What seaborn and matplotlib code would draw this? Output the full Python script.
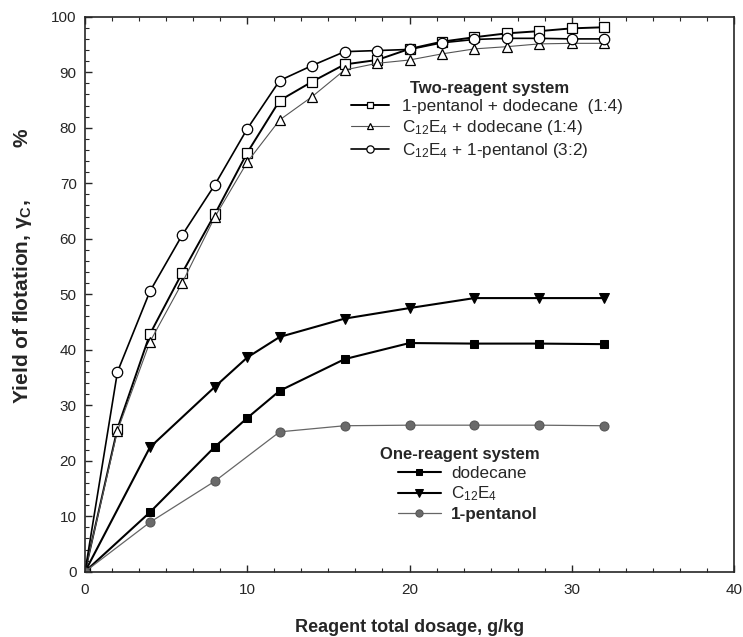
import matplotlib
matplotlib.use("Agg")
import matplotlib.pyplot as plt
import seaborn as sns
import pandas as pd
from matplotlib.ticker import MultipleLocator, AutoMinorLocator

sns.set_style("ticks")
plt.rcParams['font.family'] = ['Liberation Sans', 'DejaVu Sans']
plt.rcParams['mathtext.fontset'] = 'custom'
plt.rcParams['mathtext.rm'] = 'Liberation Sans'
plt.rcParams['mathtext.it'] = 'Liberation Sans:italic'
plt.rcParams['mathtext.bf'] = 'Liberation Sans:bold'

# ---- data ----
x_two = [0, 2, 4, 6, 8, 10, 12, 14, 16, 18, 20, 22, 24, 26, 28, 30, 32]
pent_dod = [0, 25.8, 42.8, 53.9, 64.4, 75.5, 84.9, 88.3, 91.4, 92.2, 94.2, 95.5, 96.3, 97.0, 97.4, 97.9, 98.1]
c12_dod = [0, 25.4, 41.4, 52.1, 63.9, 73.8, 81.4, 85.6, 90.4, 91.6, 92.2, 93.3, 94.2, 94.6, 95.1, 95.2, 95.2]
c12_pent = [0, 36.0, 50.5, 60.7, 69.7, 79.8, 88.5, 91.2, 93.7, 93.9, 94.1, 95.3, 95.9, 96.1, 96.1, 96.0, 96.0]

x_one = [0, 4, 8, 10, 12, 16, 20, 24, 28, 32]
dodecane = [0, 10.7, 22.5, 27.7, 32.6, 38.3, 41.2, 41.1, 41.1, 41.0]
c12e4 = [0, 22.4, 33.3, 38.6, 42.3, 45.6, 47.5, 49.3, 49.3, 49.3]
x_pent = [0, 4, 8, 12, 16, 20, 24, 28, 32]
pentanol = [0, 8.9, 16.3, 25.2, 26.3, 26.4, 26.4, 26.4, 26.3]

two_labels = ["1-pentanol + dodecane  (1:4)",
              r"$\mathregular{C_{12}E_4}$ + dodecane (1:4)",
              r"$\mathregular{C_{12}E_4}$ + 1-pentanol (3:2)"]
one_labels = ["dodecane", r"$\mathregular{C_{12}E_4}$", "1-pentanol"]

fig = plt.figure(figsize=(7.43, 6.37), dpi=100)
ax = fig.add_axes([85/743, 1-571.7/637, 649/743, 555/637])

def draw(x, y, label, **kw):
    df = pd.DataFrame({"x": x, "y": y})
    sns.lineplot(data=df, x="x", y="y", ax=ax, label=label, sort=False,
                 estimator=None, **kw)

draw(x_two, pent_dod, two_labels[0], color="black", lw=1.4, marker="s",
     markersize=6.5, markerfacecolor="white", markeredgecolor="black", markeredgewidth=0.9)
draw(x_two, c12_dod, two_labels[1], color="#555555", lw=0.8, marker="^",
     markersize=7, markerfacecolor="white", markeredgecolor="black", markeredgewidth=0.9)
draw(x_two, c12_pent, two_labels[2], color="black", lw=1.2, marker="o",
     markersize=7.5, markerfacecolor="white", markeredgecolor="black", markeredgewidth=0.9)
draw(x_one, dodecane, one_labels[0], color="black", lw=1.5, marker="s",
     markersize=5.5, markerfacecolor="black", markeredgecolor="black")
draw(x_one, c12e4, one_labels[1], color="black", lw=1.5, marker="v",
     markersize=6.5, markerfacecolor="black", markeredgecolor="black")
draw(x_pent, pentanol, one_labels[2], color="#666666", lw=0.9, marker="o",
     markersize=6.5, markerfacecolor="#6a6a6a", markeredgecolor="#555555")

ax.set_xlim(0, 40)
ax.set_ylim(0, 100)
ax.xaxis.set_major_locator(MultipleLocator(10))
ax.xaxis.set_minor_locator(AutoMinorLocator(6))
ax.yaxis.set_major_locator(MultipleLocator(10))
ax.yaxis.set_minor_locator(AutoMinorLocator(5))
ax.tick_params(which="both", direction="in", top=True, right=False, labelsize=11)
ax.tick_params(axis="x", which="major", pad=8)
ax.tick_params(axis="y", which="major", pad=6)
ax.tick_params(which="major", length=5, width=1)
ax.tick_params(which="minor", length=3, width=0.8)
for s in ax.spines.values():
    s.set_linewidth(1.2)
    s.set_visible(True)

ax.set_xlabel("Reagent total dosage, g/kg", fontsize=13, fontweight="bold")
ax.set_ylabel(r"Yield of flotation, $\mathbf{\gamma_{C}}$,         %", fontsize=15,
              fontweight="bold")
ax.xaxis.set_label_coords(0.5, (571.7-619)/555)
ax.yaxis.set_label_coords((34-85)/649, (571.7-266)/555)

handles, labels = ax.get_legend_handles_labels()
leg1 = ax.legend(handles[:3], labels[:3], loc="upper left", frameon=False,
                 bbox_to_anchor=((351-85)/649, (571.7-99)/555), borderaxespad=0,
                 borderpad=0, handlelength=2.2, handletextpad=0.8, labelspacing=0.22,
                 fontsize=12.3, markerscale=0.7)
ax.add_artist(leg1)
leg2 = ax.legend(handles[3:], labels[3:], loc="upper left", frameon=False,
                 bbox_to_anchor=((398-85)/649, (571.7-466)/555), borderaxespad=0,
                 borderpad=0, handlelength=2.5, handletextpad=0.6, labelspacing=0.22,
                 fontsize=12.3, markerscale=0.8)
leg2.get_texts()[2].set_fontweight("bold")

ax.text((410-85)/649, (571.7-88)/555, "Two-reagent system", transform=ax.transAxes,
        fontsize=12, fontweight="bold", va="center", ha="left")
ax.text((380-85)/649, (571.7-455)/555, "One-reagent system", transform=ax.transAxes,
        fontsize=12, fontweight="bold", va="center", ha="left")

fig.savefig("out.png", dpi=100)
